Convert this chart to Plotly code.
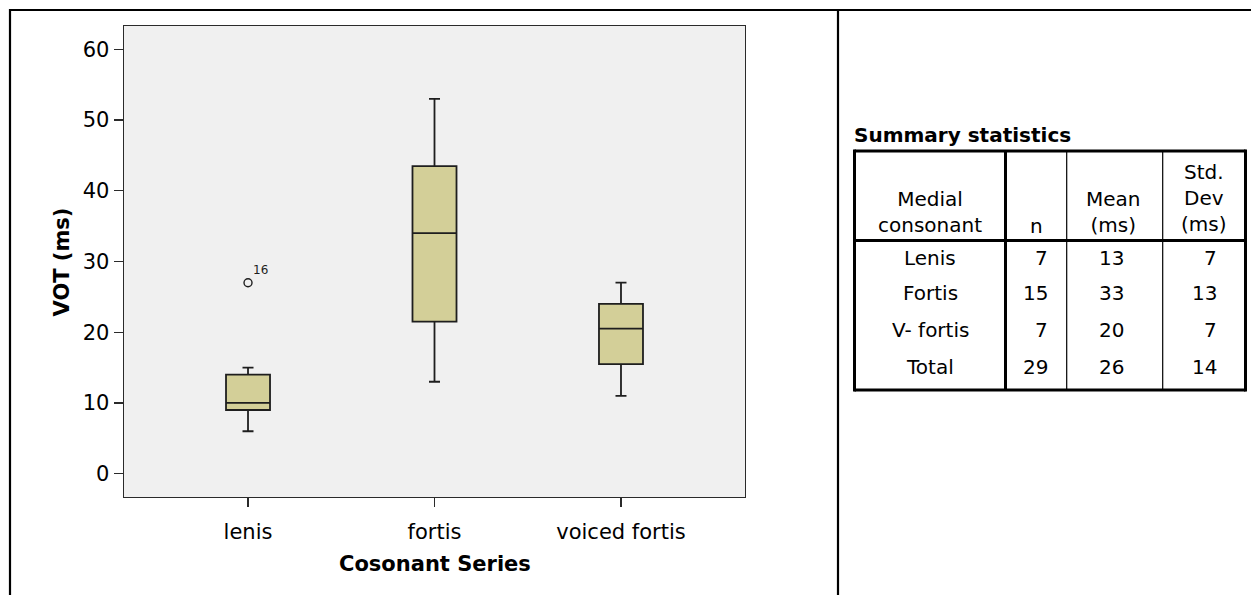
import plotly.graph_objects as go

# ---------------- data ----------------
categories = ["lenis", "fortis", "voiced fortis"]
q1_vals = [9, 21.5, 15.5]
median_vals = [10, 34, 20.5]
q3_vals = [14, 43.5, 24]
lower_whisker = [6, 13, 11]
upper_whisker = [15, 53, 27]

outlier_cat = ["lenis"]
outlier_val = [27]
outlier_label = ["16"]

y_ticks = [0, 10, 20, 30, 40, 50, 60]

table_title = "Summary statistics"
table_headers = ["Medial<br>consonant", "n", "Mean<br>(ms)", "Std.<br>Dev<br>(ms)"]
row_labels = ["Lenis", "Fortis", "V- fortis", "Total"]
n_values = [7, 15, 7, 29]
mean_values = [13, 33, 20, 26]
sd_values = [7, 13, 7, 14]

# ---------------- layout geometry (reference pixels) ----------------
FIG_W, FIG_H = 1251, 595
PL, PR, PT, PB = 124, 745, 26, 497
FONT = "DejaVu Sans, Liberation Sans, Arial, sans-serif"


def fx(x):
    return (x - PL) / (PR - PL)


def fy(y):
    return (PB - y) / (PB - PT)


fig = go.Figure()

fig.add_trace(go.Box(
    x=categories,
    q1=q1_vals,
    median=median_vals,
    q3=q3_vals,
    lowerfence=lower_whisker,
    upperfence=upper_whisker,
    boxpoints=False,
    width=0.236,
    whiskerwidth=0.25,
    fillcolor="#D3CF98",
    line=dict(color="#1e1e1e", width=1.8),
    showlegend=False,
    hoverinfo="skip",
))

fig.add_trace(go.Scatter(
    x=outlier_cat,
    y=outlier_val,
    mode="markers",
    marker=dict(symbol="circle-open", size=8, color="#1e1e1e", line=dict(width=1.4)),
    showlegend=False,
    hoverinfo="skip",
))

annotations = []
for c, v, lab in zip(outlier_cat, outlier_val, outlier_label):
    annotations.append(dict(
        x=c, y=v, xref="x", yref="y", text=lab, showarrow=False,
        xanchor="left", yanchor="middle", xshift=3, yshift=13,
        font=dict(family=FONT, size=12, color="#1e1e1e"),
    ))

# axis titles
annotations.append(dict(
    x=fx(61), y=0.5, xref="paper", yref="paper", text="<b>VOT (ms)</b>",
    showarrow=False, textangle=-90, xanchor="center", yanchor="middle",
    font=dict(family=FONT, size=21, color="black"),
))
annotations.append(dict(
    x=0.5, y=fy(564), xref="paper", yref="paper", text="<b>Cosonant Series</b>",
    showarrow=False, xanchor="center", yanchor="middle",
    font=dict(family=FONT, size=21, color="black"),
))

# ---------------- table ----------------
T_LEFT, T_RIGHT, T_TOP, T_BOTTOM = 854.5, 1245.5, 151, 390
HEADER_LINE = 240.5
COL_LINES = [1005.5, 1066.7, 1162.7]
row_y = [258, 293, 330, 367]
header_center_y = [212, 226, 212, 198]
header_x = [930, 1036, 1113, 1204]

annotations.append(dict(
    x=fx(852), y=fy(149), xref="paper", yref="paper", text="<b>" + table_title + "</b>",
    showarrow=False, xanchor="left", yanchor="bottom",
    font=dict(family=FONT, size=20, color="black"),
))

for h, hx, hy in zip(table_headers, header_x, header_center_y):
    annotations.append(dict(
        x=fx(hx), y=fy(hy), xref="paper", yref="paper", text=h,
        showarrow=False, xanchor="center", yanchor="middle", align="center",
        font=dict(family=FONT, size=20, color="black"),
    ))

for lab, n, m, s, ry in zip(row_labels, n_values, mean_values, sd_values, row_y):
    annotations.append(dict(
        x=fx(930), y=fy(ry), xref="paper", yref="paper", text=lab,
        showarrow=False, xanchor="center", yanchor="middle",
        font=dict(family=FONT, size=20, color="black"),
    ))
    annotations.append(dict(
        x=fx(1050), y=fy(ry), xref="paper", yref="paper", text=str(n),
        showarrow=False, xanchor="right", yanchor="middle",
        font=dict(family=FONT, size=20, color="black"),
    ))
    annotations.append(dict(
        x=fx(1111), y=fy(ry), xref="paper", yref="paper", text=str(m),
        showarrow=False, xanchor="center", yanchor="middle",
        font=dict(family=FONT, size=20, color="black"),
    ))
    annotations.append(dict(
        x=fx(1219), y=fy(ry), xref="paper", yref="paper", text=str(s),
        showarrow=False, xanchor="right", yanchor="middle",
        font=dict(family=FONT, size=20, color="black"),
    ))

shapes = []


def line(x0, y0, x1, y1, w, color="black"):
    shapes.append(dict(type="line", xref="paper", yref="paper",
                       x0=fx(x0), y0=fy(y0), x1=fx(x1), y1=fy(y1),
                       line=dict(color=color, width=w), layer="above"))


# outer frame and divider
line(10, 10, 1260, 10, 2.2)
line(10, 9, 10, 610, 2.2)
line(838, 9, 838, 610, 2.2)

# table borders
line(T_LEFT, T_TOP, T_RIGHT, T_TOP, 3)
line(T_LEFT, T_BOTTOM, T_RIGHT, T_BOTTOM, 3)
line(T_LEFT, T_TOP - 1.5, T_LEFT, T_BOTTOM + 1.5, 3)
line(T_RIGHT, T_TOP - 1.5, T_RIGHT, T_BOTTOM + 1.5, 3)
line(T_LEFT, HEADER_LINE, T_RIGHT, HEADER_LINE, 3)
line(COL_LINES[0], T_TOP, COL_LINES[0], T_BOTTOM, 3)
line(COL_LINES[1], T_TOP, COL_LINES[1], T_BOTTOM, 1.2)
line(COL_LINES[2], T_TOP, COL_LINES[2], T_BOTTOM, 1.2)

fig.update_layout(
    width=FIG_W, height=FIG_H,
    margin=dict(l=PL, r=FIG_W - PR, t=PT, b=FIG_H - PB, pad=0),
    paper_bgcolor="white",
    plot_bgcolor="#F0F0F0",
    font=dict(family=FONT, size=21, color="black"),
    showlegend=False,
    annotations=annotations,
    shapes=shapes,
)

fig.update_xaxes(
    type="category",
    categoryorder="array", categoryarray=categories,
    range=[-0.665, 2.665],
    showline=True, mirror=True, linecolor="#2a2a2a", linewidth=1.4,
    ticks="outside", ticklen=9, tickwidth=1.4, tickcolor="#2a2a2a",
    ticklabelstandoff=6,
    showgrid=False, zeroline=False,
    tickfont=dict(family=FONT, size=21, color="black"),
)
fig.update_yaxes(
    range=[-3.3, 63.3],
    tickvals=y_ticks,
    showline=True, mirror=True, linecolor="#2a2a2a", linewidth=1.4,
    ticks="outside", ticklen=9, tickwidth=1.4, tickcolor="#2a2a2a",
    ticklabelstandoff=0,
    showgrid=False, zeroline=False,
    tickfont=dict(family=FONT, size=21, color="black"),
)

fig.write_html(
    "out.html",
    config={"displayModeBar": False, "staticPlot": True},
    post_script="document.body.style.margin='0';document.body.style.overflow='hidden';",
)
